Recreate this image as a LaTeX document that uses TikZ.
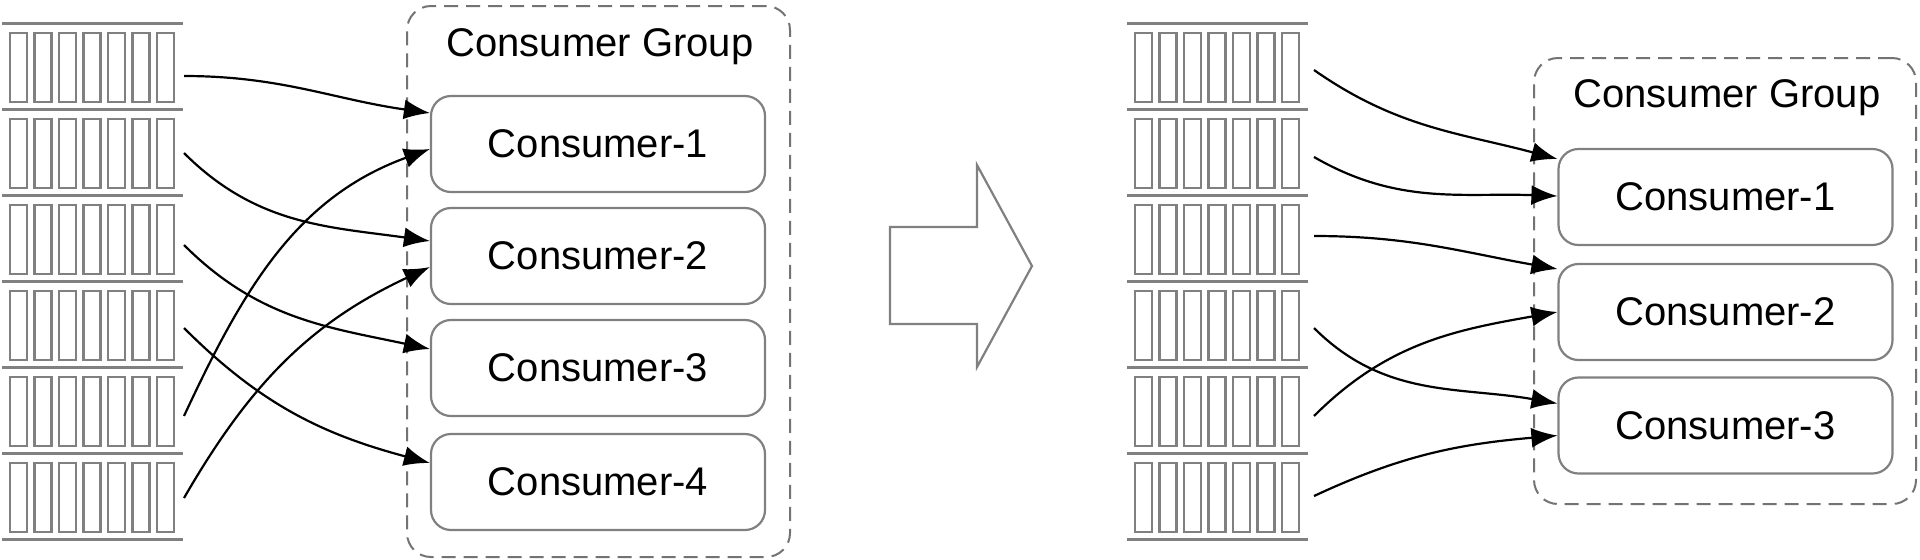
\documentclass[tikz,border=0pt]{standalone}
\usepackage{fontspec}
\setmainfont{Liberation Sans}
\usetikzlibrary{arrows.meta}
\begin{document}
\begin{tikzpicture}[x=0.5pt,y=0.5pt,
  bar/.style={draw=black!50,line width=1.2pt},
  sep/.style={draw=black!50,line width=1.5pt},
  grp/.style={draw=black!55,dashed,line width=1pt,rounded corners=12,dash pattern=on 7pt off 4pt},
  cons/.style={draw=black!50,line width=1.1pt,rounded corners=10,minimum width=167pt,minimum height=48pt,font=\fontsize{20}{22}\selectfont},
  ttl/.style={font=\fontsize{20}{22}\selectfont},
  arr/.style={-{Latex[length=13pt,width=10pt]},line width=1.1pt}]
\useasboundingbox (0,0) rectangle (1920,-559);
% partition stacks
\foreach \sx in {2,1127}{
  \foreach \r in {0,...,6}{\draw[sep] (\sx,-23-86*\r) -- ++(181,0);}
  \foreach \r in {0,...,5}{\foreach \b in {0,...,6}{
    \draw[bar] (\sx+8+24.5*\b,-33-86*\r) rectangle ++(17,-69);}}
}
\coordinate (a1) at (184,-76);
\coordinate (a2) at (184,-153);
\coordinate (a3) at (184,-245);
\coordinate (a4) at (184,-328);
\coordinate (a5) at (184,-416);
\coordinate (a6) at (184,-498);
\coordinate (b1) at (1314,-70);
\coordinate (b2) at (1314,-157);
\coordinate (b3) at (1314,-236);
\coordinate (b4) at (1314,-328);
\coordinate (b5) at (1314,-416);
\coordinate (b6) at (1314,-496);
% left group
\node[grp,minimum width=191.5pt,minimum height=275.5pt] (g1) at (598.5,-281.5) {};
\node[ttl] (t1) at (600,-47) {Consumer Group};
\node[cons] (c1) at (598,-144) {Consumer-1};
\node[cons] (c2) at (598,-256) {Consumer-2};
\node[cons] (c3) at (598,-368) {Consumer-3};
\node[cons] (c4) at (598,-482) {Consumer-4};
% right group
\node[grp,minimum width=191pt,minimum height=223pt] (g2) at (1725,-281) {};
\node[ttl] (t2) at (1727,-98) {Consumer Group};
\node[cons] (d1) at (1725.5,-197) {Consumer-1};
\node[cons] (d2) at (1725.5,-312) {Consumer-2};
\node[cons] (d3) at (1725.5,-425.5) {Consumer-3};
% big arrow
\draw[draw=black!50,line width=1.1pt,fill=white] (890,-227) -- (977,-227) -- (977,-165) -- (1032,-266) -- (977,-367) -- (977,-324) -- (890,-324) -- cycle;
% left arrows
\draw[arr] (a1) to[out=0,in=172] ([yshift=15.5pt]c1.west);
\draw[arr] (a2) to[out=-45,in=172] ([yshift=7.5pt]c2.west);
\draw[arr] (a3) to[out=-45,in=168] ([yshift=9.5pt]c3.west);
\draw[arr] (a4) to[out=-45,in=165] ([yshift=9.5pt]c4.west);
\draw[arr] (a5) to[out=65,in=200] ([yshift=-2.5pt]c1.west);
\draw[arr] (a6) to[out=60,in=205] ([yshift=-5.5pt]c2.west);
% right arrows
\draw[arr] (b1) to[out=-35,in=165] ([yshift=19pt]d1.west);
\draw[arr] (b2) to[out=-30,in=178] ([yshift=0.5pt]d1.west);
\draw[arr] (b3) to[out=0,in=170] ([yshift=21.5pt]d2.west);
\draw[arr] (b4) to[out=-45,in=170] ([yshift=11pt]d3.west);
\draw[arr] (b5) to[out=45,in=190] (d2.west);
\draw[arr] (b6) to[out=25,in=185] ([yshift=-5pt]d3.west);
\end{tikzpicture}
\end{document}
